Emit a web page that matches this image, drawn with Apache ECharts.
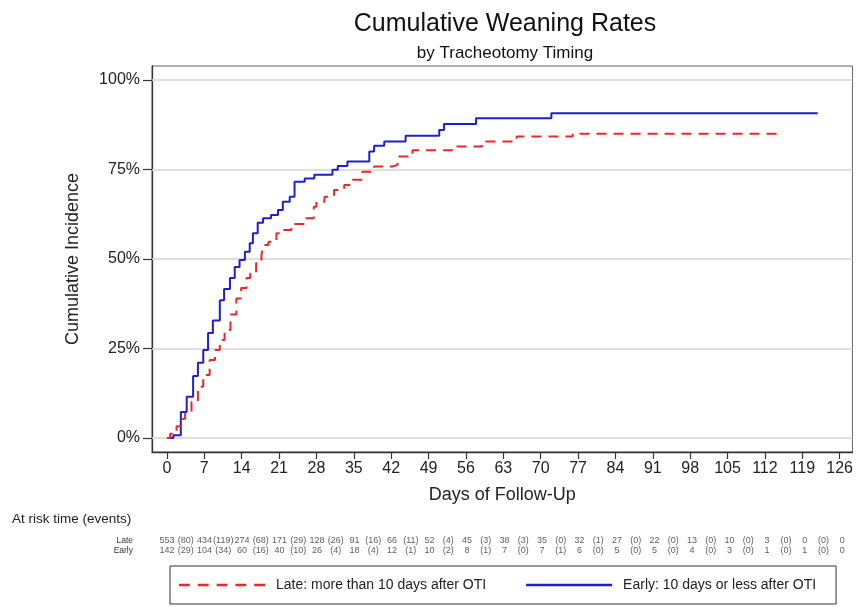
<!DOCTYPE html>
<html><head><meta charset="utf-8">
<script src="https://cdn.jsdelivr.net/npm/echarts@6/dist/echarts.min.js"></script>
<style>html,body{margin:0;padding:0;background:#fff}#c{width:856px;height:607px}</style>
</head><body><div id="c"></div>
<script>
const dayTicks = [0,7,14,21,28,35,42,49,56,63,70,77,84,91,98,105,112,119,126];
const pctTicks = [0,25,50,75,100];
const lateName = 'Late: more than 10 days after OTI';
const earlyName = 'Early: 10 days or less after OTI';
// [day, cumulative %]
const lateCurve = [[0,0],[0.6,1.2],[1.8,3.3],[3.0,5.4],[3.4,6.9],[4.6,10.1],[5.8,14.3],[6.8,17.6],[8.0,21.8],[9.0,24.6],[9.9,27.4],[10.8,30.2],[11.9,34.5],[13.0,39.0],[13.9,41.9],[14.9,44.7],[15.6,46.0],[16.7,48.9],[17.7,51.1],[18.0,53.9],[19.0,54.8],[20.5,57.2],[21.5,58.1],[23.3,59.8],[25.8,61.4],[27.5,64.6],[28.0,66.0],[29.5,67.4],[31.3,69.3],[33.2,70.7],[34.8,72.1],[36.6,74.4],[38.8,75.8],[42.2,76.3],[43.2,78.6],[46.0,80.4],[53.4,81.4],[59.0,82.8],[65.5,84.2],[76.0,85.0],[115.0,85.0]];
const earlyCurve = [[0,0],[1.2,0.8],[2.6,7.3],[3.7,11.5],[4.9,17.3],[5.8,21.0],[6.8,24.6],[7.7,29.3],[8.6,32.8],[9.9,38.5],[10.7,41.6],[11.8,44.7],[12.7,47.8],[13.6,49.7],[14.6,52.0],[15.5,54.4],[16.1,57.2],[17.0,60.1],[18.0,61.4],[19.5,62.3],[20.8,63.7],[21.7,66.0],[23.0,67.4],[23.9,71.6],[25.8,72.5],[27.6,73.5],[31.0,74.9],[32.0,76.0],[33.8,77.2],[37.9,80.0],[38.8,81.6],[40.7,82.8],[44.7,84.4],[51.0,86.0],[51.9,87.7],[57.9,89.3],[72.0,90.7],[121.9,90.7]];
const riskRows = ['Early','Late'];
const lateAtRisk = [553,434,274,171,128,91,66,52,45,38,35,32,27,22,13,10,3,0,0];
const lateEvents = [80,119,68,29,26,16,11,4,3,3,0,1,0,0,0,0,0,0];
const earlyAtRisk = [142,104,60,40,26,18,12,10,8,7,7,6,5,5,4,3,1,1,0];
const earlyEvents = [29,34,16,10,4,4,1,2,1,0,1,0,0,0,0,0,0,0];

function tableData(row, atRisk, events) {
  const out = [];
  atRisk.forEach((v, i) => out.push([dayTicks[i], row, String(v)]));
  events.forEach((v, i) => out.push([(dayTicks[i] + dayTicks[i+1]) / 2, row, '(' + v + ')']));
  return out;
}

const RED = '#e8282b', BLUE = '#1f1fd2';
const dashIcon = 'path://M0,0h10v2.2h-10z M17.5,0h10v2.2h-10z M35,0h10v2.2h-10z M52.5,0h10v2.2h-10z M70,0h10v2.2h-10z';
const solidIcon = 'path://M0,0h80v2.2h-80z';

const FONT = '"Liberation Sans", Arial, sans-serif';
const chart = echarts.init(document.getElementById('c'), null, {renderer: 'canvas'});
chart.setOption({
  animation: false,
  textStyle: {fontFamily: FONT},
  title: [
    {text: 'Cumulative Weaning Rates', left: 500, top: 7, textAlign: 'center',
     textStyle: {fontSize: 25, fontWeight: 'normal', color: '#111', fontFamily: FONT}},
    {text: 'by Tracheotomy Timing', left: 500, top: 40, textAlign: 'center',
     textStyle: {fontSize: 17, fontWeight: 'normal', color: '#111', fontFamily: FONT}},
    {text: 'At risk time (events)', left: 7, top: 507,
     textStyle: {fontSize: 13.5, fontWeight: 'normal', color: '#222', fontFamily: FONT}}
  ],
  grid: [
    {left: 152, right: 1, top: 66, bottom: 155, show: true, borderColor: '#666', borderWidth: 1},
    {left: 152, right: 1, top: 536, height: 20}
  ],
  legend: {
    data: [{name: lateName, icon: dashIcon}, {name: earlyName, icon: solidIcon}],
    left: 170, top: 566,
    padding: [12, 20, 12, 9],
    itemGap: 40, itemWidth: 86, itemHeight: 14,
    borderColor: '#333', borderWidth: 1,
    textStyle: {fontSize: 14, color: '#222', fontFamily: FONT, padding: [0, 0, 0, 6]}
  },
  xAxis: [
    {gridIndex: 0, type: 'value', min: -2.8, max: 128.4,
     axisLine: {show: true, onZero: false, lineStyle: {color: '#333', width: 1.3}},
     axisTick: {show: true, customValues: dayTicks, length: 7, lineStyle: {color: '#333', width: 1.2}},
     axisLabel: {customValues: dayTicks, fontSize: 16, margin: 9, color: '#222', fontFamily: FONT},
     splitLine: {show: false},
     name: 'Days of Follow-Up', nameLocation: 'middle', nameGap: 34,
     nameTextStyle: {fontSize: 18, color: '#222', fontFamily: FONT}},
    {gridIndex: 1, type: 'value', min: -2.8, max: 128.4, show: false}
  ],
  yAxis: [
    {gridIndex: 0, type: 'value', min: -3.9, max: 103.9,
     axisLine: {show: true, onZero: false, lineStyle: {color: '#333', width: 1.3}},
     axisTick: {show: true, customValues: pctTicks, length: 9, lineStyle: {color: '#333', width: 1.2}},
     axisLabel: {customValues: pctTicks, formatter: '{value}%', fontSize: 16, margin: 12, color: '#222', fontFamily: FONT},
     splitLine: {show: false},
     name: 'Cumulative Incidence', nameLocation: 'middle', nameGap: 70,
     nameTextStyle: {fontSize: 18, color: '#222', fontFamily: FONT}},
    {gridIndex: 1, type: 'category', data: riskRows,
     axisLine: {show: false}, axisTick: {show: false},
     axisLabel: {interval: 0, hideOverlap: false, fontSize: 8.5, margin: 19, color: '#333', fontFamily: FONT}}
  ],
  series: [
    {name: 'grid', type: 'line', xAxisIndex: 0, yAxisIndex: 0, data: [], z: 1, silent: true,
     markLine: {silent: true, symbol: 'none', z: 1, label: {show: false},
       lineStyle: {color: '#d4d4d4', width: 1.6, type: 'solid'},
       data: pctTicks.map(v => ({yAxis: v}))}},
    {name: earlyName, type: 'line', step: 'end', data: earlyCurve, xAxisIndex: 0, yAxisIndex: 0,
     symbol: 'none', z: 3, color: BLUE,
     lineStyle: {color: BLUE, width: 2}},
    {name: lateName, type: 'line', step: 'end', data: lateCurve, xAxisIndex: 0, yAxisIndex: 0,
     symbol: 'none', z: 4, color: RED,
     lineStyle: {color: RED, width: 2, type: [10, 7]}},
    {name: 'riskLate', type: 'scatter', xAxisIndex: 1, yAxisIndex: 1, symbolSize: 0,
     data: tableData('Late', lateAtRisk, lateEvents),
     label: {show: true, position: 'inside', formatter: p => p.value[2], fontSize: 9, color: '#333', fontFamily: FONT}},
    {name: 'riskEarly', type: 'scatter', xAxisIndex: 1, yAxisIndex: 1, symbolSize: 0,
     data: tableData('Early', earlyAtRisk, earlyEvents),
     label: {show: true, position: 'inside', formatter: p => p.value[2], fontSize: 9, color: '#333', fontFamily: FONT}}
  ]
});
</script>
</body></html>
